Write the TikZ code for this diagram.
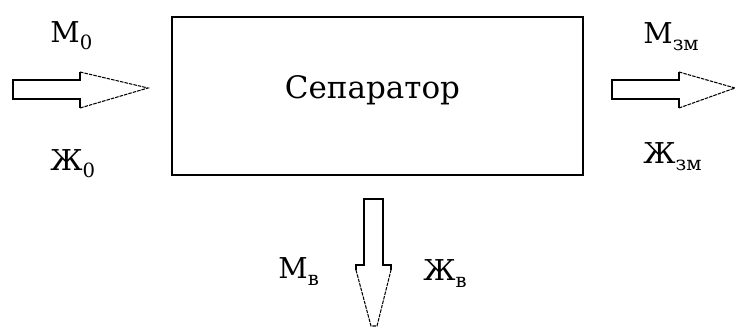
\documentclass[tikz,border=0pt]{standalone}
\usepackage{fontspec}
\setmainfont{DejaVu Serif}[Scale=0.86]
\usetikzlibrary{positioning}
\newcommand{\lowidx}[1]{\raisebox{-4.5pt}{\fontsize{13}{13}\selectfont #1}}

\begin{document}
\begin{tikzpicture}[x=0.2mm, y=-0.2mm,
    unit/.style={draw, line width=0.8pt, minimum width=82.2mm, minimum height=31.6mm, inner sep=0pt},
    flow/.style={line width=0.6pt, line join=miter},
    flowhead/.style={flow, dash pattern=on 2pt off 0.6pt},
    lbl/.style={anchor=base west, inner sep=0pt, font=\fontsize{19}{22}\selectfont}]
    \useasboundingbox (0,0) rectangle (735,328);
    % separator block
    \node[unit] (sep) at (377.5,96) {};
    \node[anchor=base, inner sep=0pt, font=\fontsize{20.5}{24}\selectfont] (septext) at (372.5,98) {Сепаратор};
    % inlet
    \draw[flow] (80,72) -- (80,80) -- (13,80) -- (13,99) -- (80,99) -- (80,108);
    \draw[flowhead] (80,72) -- (148,88) -- (80,108);
    \node[lbl] (m0) at (50,42) {М\lowidx{0}};
    \node[lbl] (zh0) at (50,170) {Ж\lowidx{0}};
    % outlet
    \draw[flow] (679,72) -- (679,80) -- (612,80) -- (612,99) -- (679,99) -- (679,108);
    \draw[flowhead] (679,72) -- (735,88) -- (679,108);
    \node[lbl] (mzm) at (643,43) {М\lowidx{зм}};
    \node[lbl] (zhzm) at (643,163) {Ж\lowidx{зм}};
    % bottom outlet
    \draw[flow] (356,270) -- (356,265) -- (364,265) -- (364,199) -- (383,199) -- (383,265) -- (391,265) -- (391,270);
    \draw[flowhead] (356,270) -- (371,326) -- (377,326) -- (391,270);
    \node[lbl] (mv) at (278,278) {М\lowidx{в}};
    \node[lbl] (zhv) at (423,280) {Ж\lowidx{в}};
\end{tikzpicture}
\end{document}
